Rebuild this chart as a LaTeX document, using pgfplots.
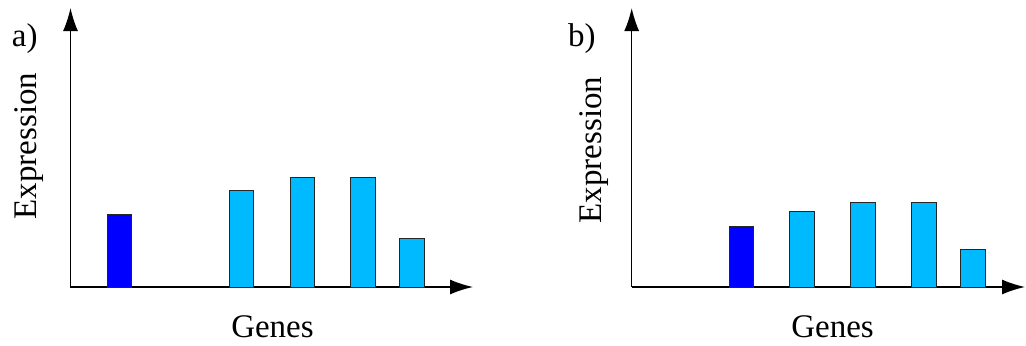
\documentclass[border=0pt]{standalone}
\usepackage{pgfplots}
\pgfplotsset{compat=1.18}
\usepackage{fontspec}
\setmainfont{Liberation Serif}
\newfontfamily\timesfont{Liberation Serif}
\usetikzlibrary{arrows.meta}
\definecolor{darkbar}{RGB}{0,0,255}
\definecolor{lightbar}{RGB}{0,186,255}
\begin{document}
\begin{tikzpicture}[x=0.5pt,y=0.5pt,every node/.append style={font=\timesfont\fontsize{16.5}{20}\selectfont}]
\useasboundingbox (0,0) rectangle (1026,345);
\pgfplotsset{
  genes/.style={
    scale only axis,
    height=139.5pt,
    ymin=0, ymax=279,
    xmin=0,
    axis lines*=left,
    axis line style={line width=0.7pt,-{Latex[length=11.5pt,width=7.5pt]}},
    xtick=\empty, ytick=\empty,
    ybar, bar width=24.5, bar shift=0pt,
    clip=false,
    every axis plot/.append style={draw=black!85, line width=0.5pt},
  }
}
% panel a
\begin{axis}[genes, at={(70.5,58)}, anchor=south west, width=201.25pt, xmax=402.5]
\addplot[fill=darkbar] coordinates {(48.8,73)};
\addplot[fill=lightbar] coordinates {(171,97) (231.8,109.3) (292.7,109.3) (341.5,48.3)};
\node[anchor=base] at (axis cs:202,-50) {Genes};
\node[anchor=base, rotate=90] at (axis cs:-34,141) {Expression};
\node[anchor=base west, inner sep=0pt] at (axis cs:-59,241) {a)};
\end{axis}
% panel b
\begin{axis}[genes, at={(631.7,58)}, anchor=south west, width=196.65pt, xmax=393.3]
\addplot[fill=darkbar] coordinates {(109.6,60.7)};
\addplot[fill=lightbar] coordinates {(170.5,75.7) (231.5,85) (292.3,85) (341.1,37.7)};
\node[anchor=base] at (axis cs:200.8,-50) {Genes};
\node[anchor=base, rotate=90] at (axis cs:-30,137) {Expression};
\node[anchor=base west, inner sep=0pt] at (axis cs:-64,241) {b)};
\end{axis}
\end{tikzpicture}
\end{document}
